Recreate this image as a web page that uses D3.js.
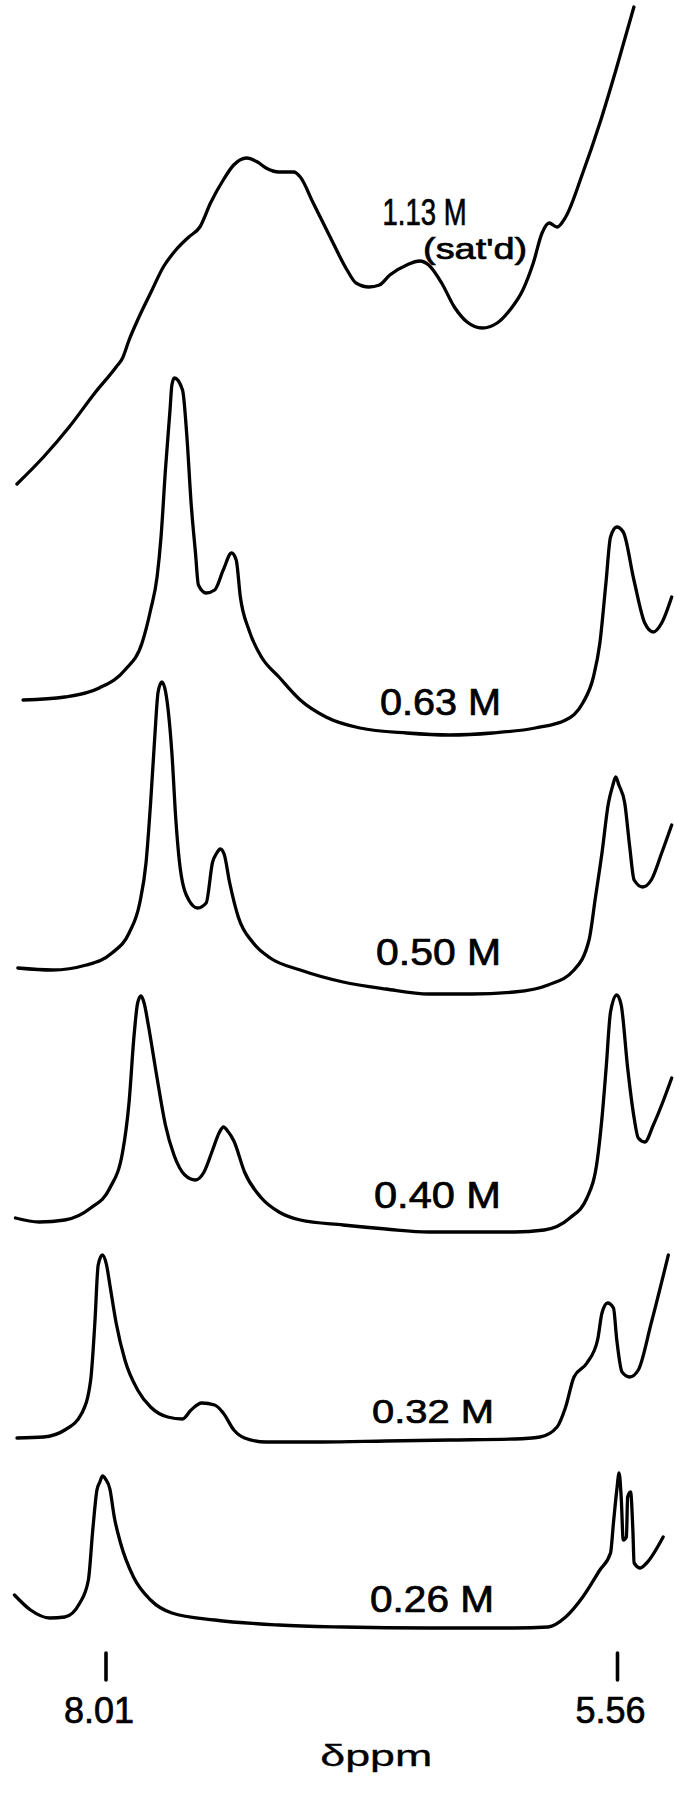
<!DOCTYPE html>
<html>
<head>
<meta charset="utf-8">
<script src="https://cdn.jsdelivr.net/npm/d3@7"></script>
<style>
	body { margin: 0; background: #fff; }
	svg { display: block; }
	text { font-family: 'Liberation Sans', Arial, sans-serif; fill: #000; stroke: #000; stroke-width: 0.7px; }
</style>
</head>
<body>
<div id="chart"></div>
<script>
let width = 674,
	height = 1795;

// concentrations, top trace first
let concLabels = ['1.13 M', '0.63 M', '0.50 M', '0.40 M', '0.32 M', '0.26 M'];

// chemical shift (ppm) and signal height (arbitrary units)
let ppm113 = [8.434, 8.307, 8.184, 8.061, 7.959, 7.928, 7.897, 7.856, 7.794, 7.733, 7.673, 7.611, 7.558, 7.507, 7.446, 7.396, 7.334, 7.282, 7.241, 7.179, 7.108, 7.077, 7.015, 6.934, 6.853, 6.81, 6.748, 6.698, 6.648, 6.567, 6.505, 6.462, 6.4, 6.339, 6.278, 6.206, 6.134, 6.073, 6.011, 5.961, 5.919, 5.885, 5.847, 5.806, 5.724, 5.642, 5.561, 5.479];
let int113 = [16, 43, 73, 107, 133, 142, 160, 180, 207, 233, 250, 263, 273, 297, 320, 335, 342, 338, 332, 328, 328, 323, 297, 263, 230, 217, 213, 215, 225, 235, 239, 235, 217, 193, 178, 172, 177, 190, 210, 237, 267, 277, 273, 283, 327, 377, 433, 493];

let ppm063 = [8.405, 8.205, 8.04, 7.917, 7.835, 7.794, 7.763, 7.744, 7.723, 7.701, 7.692, 7.68, 7.641, 7.62, 7.6, 7.579, 7.565, 7.528, 7.487, 7.446, 7.406, 7.384, 7.364, 7.323, 7.263, 7.179, 7.077, 6.954, 6.791, 6.567, 6.362, 6.157, 5.952, 5.806, 5.724, 5.673, 5.642, 5.613, 5.591, 5.561, 5.53, 5.479, 5.427, 5.386, 5.346, 5.298];
let int063 = [40, 43, 52, 70, 97, 130, 163, 203, 270, 330, 355, 362, 350, 303, 237, 187, 155, 147, 150, 170, 187, 180, 143, 110, 83, 63, 40, 23, 12, 7, 5, 7, 12, 20, 37, 63, 97, 157, 203, 213, 208, 160, 117, 108, 117, 143];

let ppm050 = [8.43, 8.266, 8.102, 7.979, 7.897, 7.846, 7.816, 7.794, 7.774, 7.758, 7.74, 7.722, 7.692, 7.673, 7.651, 7.611, 7.569, 7.528, 7.497, 7.477, 7.46, 7.442, 7.415, 7.374, 7.302, 7.221, 7.077, 6.872, 6.667, 6.462, 6.257, 6.052, 5.89, 5.766, 5.694, 5.663, 5.632, 5.601, 5.581, 5.566, 5.551, 5.523, 5.499, 5.478, 5.437, 5.396, 5.346, 5.298];
let int050 = [32, 30, 35, 47, 67, 97, 137, 197, 263, 308, 318, 308, 247, 180, 130, 100, 92, 97, 138, 147, 151, 146, 117, 83, 57, 42, 30, 18, 11, 6, 6, 8, 15, 30, 60, 103, 147, 197, 214, 223, 215, 197, 153, 120, 113, 120, 147, 175];

let ppm040 = [8.441, 8.328, 8.205, 8.081, 7.989, 7.928, 7.897, 7.873, 7.856, 7.84, 7.825, 7.805, 7.763, 7.723, 7.682, 7.63, 7.579, 7.538, 7.497, 7.466, 7.445, 7.425, 7.395, 7.344, 7.263, 7.179, 7.077, 6.872, 6.667, 6.462, 6.257, 6.052, 5.909, 5.786, 5.704, 5.653, 5.632, 5.612, 5.591, 5.561, 5.54, 5.509, 5.478, 5.458, 5.427, 5.386, 5.346, 5.298];
let int040 = [18, 14, 16, 28, 48, 84, 134, 201, 233, 240, 233, 211, 158, 111, 81, 61, 56, 64, 86, 103, 109, 105, 95, 64, 38, 24, 16, 11, 7, 4, 4, 4, 6, 18, 38, 78, 118, 168, 224, 241, 231, 168, 118, 98, 94, 111, 131, 158];

let ppm032 = [8.434, 8.307, 8.205, 8.123, 8.081, 8.061, 8.045, 8.025, 8.005, 7.989, 7.959, 7.917, 7.856, 7.794, 7.712, 7.641, 7.6, 7.549, 7.487, 7.446, 7.395, 7.344, 7.241, 6.975, 6.667, 6.36, 6.052, 5.929, 5.847, 5.806, 5.766, 5.704, 5.653, 5.632, 5.605, 5.577, 5.561, 5.536, 5.499, 5.458, 5.396, 5.314];
let int032 = [7, 8, 15, 32, 65, 122, 180, 190, 180, 160, 122, 85, 55, 38, 28, 26, 35, 42, 40, 32, 15, 7, 3, 3, 4, 5, 6, 8, 18, 38, 68, 82, 105, 132, 142, 137, 105, 73, 68, 75, 122, 190];

let ppm026 = [8.446, 8.369, 8.277, 8.205, 8.133, 8.092, 8.071, 8.051, 8.037, 8.024, 8.01, 7.989, 7.968, 7.938, 7.876, 7.794, 7.692, 7.487, 7.179, 6.872, 6.462, 6.052, 5.89, 5.806, 5.724, 5.642, 5.591, 5.577, 5.561, 5.55, 5.54, 5.53, 5.515, 5.509, 5.495, 5.484, 5.478, 5.448, 5.418, 5.339];
let int026 = [37, 22, 14, 15, 29, 52, 102, 142, 150, 156, 153, 143, 115, 89, 55, 32, 19, 12, 7, 5, 4, 4, 5, 15, 35, 62, 79, 109, 142, 159, 135, 92, 95, 135, 140, 102, 69, 64, 69, 95];

// marked shifts on the scale
let tickPpm = [8.01, 5.56];
let tickLabels = ['8.01', '5.56'];

// layout: vertical offset of each trace in the stack (same units as intensity)
let stackOffset = [1132, 892, 632, 396, 187, 0];
// where each concentration label sits: [ppm of left edge, height above trace base, font size, text length]
let labelPlace = [
	[6.683, 275, 37, 84],
	[6.695, 25, 36, 121],
	[6.714, 35, 36, 125],
	[6.724, 28, 36, 127],
	[6.733, 22, 33, 122],
	[6.743, 20, 36, 124]
];

let traces = [
	{ ppm: ppm113, val: int113 },
	{ ppm: ppm063, val: int063 },
	{ ppm: ppm050, val: int050 },
	{ ppm: ppm040, val: int040 },
	{ ppm: ppm032, val: int032 },
	{ ppm: ppm026, val: int026 }
];

let x = d3.scaleLinear().domain([8.01, 5.56]).range([105.5, 617]);
let y = d3.scaleLinear().domain([0, 1632]).range([1632, 0]);

let svg = d3
	.select('#chart')
	.append('svg')
	.attr('width', width)
	.attr('height', height);

let line = d3
	.line()
	.x((d) => x(d[0]))
	.y((d) => y(d[1]))
	.curve(d3.curveMonotoneX);

traces.forEach(function (t, i) {
	let pts = t.ppm.map((p, j) => [p, t.val[j] + stackOffset[i]]);
	svg.append('path')
		.attr('d', line(pts))
		.attr('fill', 'none')
		.attr('stroke', '#000')
		.attr('stroke-width', 3.3)
		.attr('stroke-linecap', 'round')
		.attr('stroke-linejoin', 'round');

	let lp = labelPlace[i];
	svg.append('text')
		.attr('x', x(lp[0]))
		.attr('y', y(stackOffset[i] + lp[1]))
		.attr('font-size', lp[2])
		.attr('textLength', lp[3])
		.attr('lengthAdjust', 'spacingAndGlyphs')
		.text(concLabels[i]);
});

// saturated note under the top label
svg.append('text')
	.attr('x', x(6.489))
	.attr('y', y(stackOffset[0] + 241))
	.attr('font-size', 29)
	.attr('textLength', 104)
	.attr('lengthAdjust', 'spacingAndGlyphs')
	.text("(sat'd)");

// shift scale with the two reference marks
let axis = d3
	.axisBottom(x)
	.tickValues(tickPpm)
	.tickSize(27)
	.tickFormat((d, i) => tickLabels[i]);

let gAxis = svg.append('g').attr('transform', 'translate(0,1653)').call(axis);
gAxis.select('.domain').remove();
gAxis.selectAll('.tick line')
	.attr('stroke', '#000')
	.attr('stroke-width', 3.6)
	.attr('stroke-linecap', 'round');
gAxis.selectAll('.tick text')
	.attr('y', 70)
	.attr('dy', null)
	.attr('dx', -7)
	.attr('fill', '#000')
	.style('font-size', '36px')
	.style('font-family', "'Liberation Sans', Arial, sans-serif")
	.attr('textLength', 70)
	.attr('lengthAdjust', 'spacingAndGlyphs');

svg.append('text')
	.attr('x', (x(tickPpm[0]) + x(tickPpm[1])) / 2 + 15)
	.attr('y', 1766)
	.attr('text-anchor', 'middle')
	.attr('font-size', 29)
	.attr('textLength', 112)
	.attr('lengthAdjust', 'spacingAndGlyphs')
	.style('stroke-width', '0.3px')
	.text('δppm');
</script>
</body>
</html>
